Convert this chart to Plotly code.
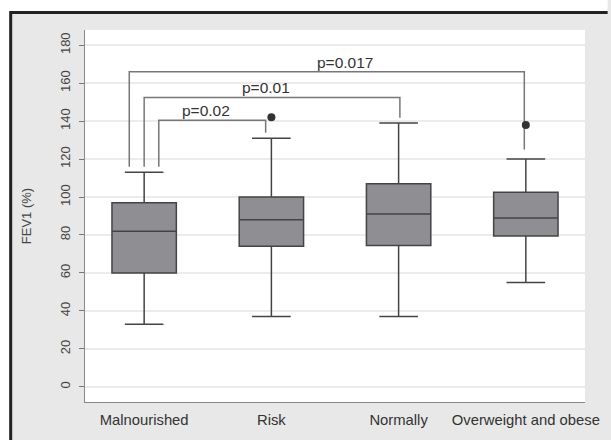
import plotly.graph_objects as go

# ---- data ----
categories = ["Malnourished", "Risk", "Normally", "Overweight and obese"]
q1 = [60, 74, 74.5, 79.5]
median = [82, 88, 91, 89]
q3 = [97, 100, 107, 102.5]
lower_whisker = [33, 37, 37, 55]
upper_whisker = [113, 131, 139, 120]
outlier_group = [1, 3]
outlier_value = [142, 138]

# comparisons: (group a, group b, p-value text)
comp_a = [0, 0, 0]
comp_b = [1, 2, 3]
comp_p = ["p=0.02", "p=0.01", "p=0.017"]
comp_level = [140.5, 152.5, 166]
y_ticks = [0, 20, 40, 60, 80, 100, 120, 140, 160, 180]

W, H = 611, 440
L, R, T, B = 85, 18, 30, 38
pw, ph = W - L - R, H - T - B

xs = list(range(len(categories)))
fig = go.Figure()
fig.add_trace(go.Box(
    x=xs, q1=q1, median=median, q3=q3,
    lowerfence=lower_whisker, upperfence=upper_whisker,
    width=0.506, whiskerwidth=0.6,
    fillcolor="#8f8f93", line=dict(color="#444444", width=1.5),
    boxpoints=False, showlegend=False, hoverinfo="skip",
))

# bracket drawing
left_off = [0.115, 0.0, -0.117]
right_off = [-0.045, 0.01, -0.012]
label_dx = [-0.05, -0.047, 0.14]
for i in range(len(comp_p)):
    a, b = comp_a[i], comp_b[i]
    xa = a + left_off[i]
    xb = b + right_off[i]
    ya = upper_whisker[a] + 3
    yb = upper_whisker[b] + (5 if b == 3 else 2.8)
    yl = comp_level[i]
    fig.add_trace(go.Scatter(
        x=[xa, xa, xb, xb], y=[ya, yl, yl, yb], mode="lines",
        line=dict(color="#777777", width=1.5), showlegend=False, hoverinfo="skip",
    ))
    fig.add_annotation(
        x=(xa + xb) / 2 + label_dx[i], y=yl, text=comp_p[i], showarrow=False,
        yanchor="bottom", yshift=-1, font=dict(family="Liberation Sans, Arial", size=15.5, color="#333333"),
    )

fig.add_trace(go.Scatter(
    x=outlier_group, y=outlier_value, mode="markers",
    marker=dict(color="#333333", size=8), showlegend=False, hoverinfo="skip",
))

def px_x(p):
    return (p - L) / pw

def px_y(p):
    return (H - B - p) / ph

shapes = [
    dict(type="rect", xref="paper", yref="paper", x0=px_x(-5), x1=px_x(W + 5),
         y0=px_y(11), y1=px_y(-5), fillcolor="white", line=dict(width=0), layer="above"),
    dict(type="rect", xref="paper", yref="paper", x0=px_x(-5), x1=px_x(8),
         y0=px_y(H + 5), y1=px_y(-5), fillcolor="white", line=dict(width=0), layer="above"),
    dict(type="line", xref="paper", yref="paper", x0=px_x(9.5), x1=px_x(W + 5),
         y0=px_y(12.5), y1=px_y(12.5), line=dict(color="#222222", width=3), layer="above"),
    dict(type="line", xref="paper", yref="paper", x0=px_x(9.5), x1=px_x(9.5),
         y0=px_y(H + 5), y1=px_y(11), line=dict(color="#222222", width=3), layer="above"),
]

fig.update_layout(
    width=W, height=H,
    margin=dict(l=L, r=R, t=T, b=B, pad=0),
    paper_bgcolor="#e8e8e8", plot_bgcolor="white",
    font=dict(family="Liberation Sans, Arial", color="#333333"),
    shapes=shapes,
    xaxis=dict(
        range=[-0.465, 3.465], tickmode="array", tickvals=xs, ticktext=categories,
        showgrid=False, zeroline=False, showline=True, linecolor="#888888", linewidth=1,
        ticks="outside", ticklen=4, tickcolor="rgba(0,0,0,0)",
        tickfont=dict(size=14.8, color="#333333"),
    ),
    yaxis=dict(
        range=[-8, 188], tickmode="array", tickvals=y_ticks,
        showgrid=True, gridcolor="#ececec", gridwidth=1.5, zeroline=False,
        showline=True, linecolor="#888888", linewidth=1,
        ticks="outside", ticklen=5, tickcolor="#777777", tickangle=-90,
        ticklabelstandoff=4,
        tickfont=dict(size=13, color="#444444"),
        title=dict(text="FEV1 (%)", font=dict(size=13, color="#444444"), standoff=23),
    ),
)

fig.write_html("out.html", config={"displayModeBar": False},
               post_script="document.body.style.margin='0px';document.body.style.overflow='hidden';")
